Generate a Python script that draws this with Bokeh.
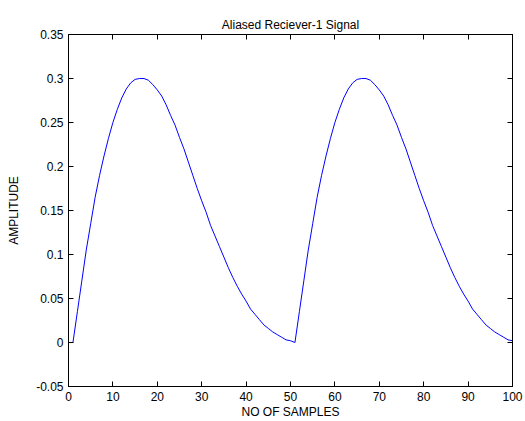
from bokeh.plotting import figure
from bokeh.models import Range1d, FixedTicker, LinearAxis
from bokeh.embed import file_html
from bokeh.resources import INLINE

samples = list(range(0, 101))
amplitude = [
    0.000, 0.000, 0.035, 0.070, 0.105, 0.135, 0.165, 0.190, 0.212, 0.232,
    0.250, 0.265, 0.278, 0.288, 0.295, 0.299, 0.300, 0.300, 0.298, 0.293,
    0.287, 0.280, 0.270, 0.258, 0.247, 0.233, 0.220, 0.205, 0.190, 0.175,
    0.161, 0.148, 0.133, 0.121, 0.109, 0.097, 0.085, 0.074, 0.064, 0.055,
    0.047, 0.038, 0.032, 0.026, 0.020, 0.016, 0.012, 0.009, 0.006, 0.003,
    0.002, 0.000, 0.035, 0.070, 0.105, 0.135, 0.165, 0.190, 0.212, 0.232,
    0.250, 0.265, 0.278, 0.288, 0.295, 0.299, 0.300, 0.300, 0.298, 0.293,
    0.287, 0.280, 0.270, 0.258, 0.247, 0.233, 0.220, 0.205, 0.190, 0.175,
    0.161, 0.148, 0.133, 0.121, 0.109, 0.097, 0.085, 0.074, 0.064, 0.055,
    0.047, 0.038, 0.032, 0.026, 0.020, 0.016, 0.012, 0.009, 0.006, 0.003,
    0.002,
]
x_ticks = [0, 10, 20, 30, 40, 50, 60, 70, 80, 90, 100]
y_ticks = [-0.05, 0, 0.05, 0.1, 0.15, 0.2, 0.25, 0.3, 0.35]
y_tick_labels = ["-0.05", "0", "0.05", "0.1", "0.15", "0.2", "0.25", "0.3", "0.35"]

FONT = "Liberation Sans"
FS = "12px"

p = figure(width=525, height=421, output_backend="svg", toolbar_location=None,
           x_range=Range1d(0, 100), y_range=Range1d(-0.05, 0.35),
           title="Aliased Reciever-1 Signal",
           min_border_left=68, min_border_right=13, min_border_top=34,
           min_border_bottom=34)

p.line(samples, amplitude, line_color="#0000ff", line_width=1)

p.title.align = "center"
p.title.text_font = FONT
p.title.text_font_size = FS
p.title.text_font_style = "normal"
p.title.text_color = "black"
p.title.standoff = 6

p.xgrid.visible = False
p.ygrid.visible = False
p.outline_line_color = "black"
p.outline_line_width = 1
p.background_fill_color = "white"
p.border_fill_color = "white"

ylabels = {v: s for v, s in zip(y_ticks, y_tick_labels)}

for ax in p.xaxis:
    ax.ticker = FixedTicker(ticks=x_ticks)
    ax.axis_label = "NO OF SAMPLES"
for ax in p.yaxis:
    ax.ticker = FixedTicker(ticks=y_ticks)
    ax.major_label_overrides = ylabels
    ax.axis_label = "AMPLITUDE"

top_ax = LinearAxis(ticker=FixedTicker(ticks=x_ticks))
right_ax = LinearAxis(ticker=FixedTicker(ticks=y_ticks))
p.add_layout(top_ax, "above")
p.add_layout(right_ax, "right")

for ax in p.xaxis + p.yaxis:
    ax.major_tick_in = 5
    ax.major_tick_out = 0
    ax.minor_tick_in = 0
    ax.minor_tick_out = 0
    ax.axis_line_color = "black"
    ax.axis_line_width = 1
    ax.major_tick_line_color = "black"
    ax.major_tick_line_width = 1
    ax.major_label_text_font = FONT
    ax.major_label_text_font_size = FS
    ax.major_label_text_color = "black"
    ax.axis_label_text_font = FONT
    ax.axis_label_text_font_size = FS
    ax.axis_label_text_font_style = "normal"
    ax.axis_label_text_color = "black"

for ax in p.below:
    ax.major_label_standoff = 5
    ax.axis_label_standoff = 1
for ax in p.left:
    ax.major_label_standoff = 5
    ax.axis_label_standoff = 12

for ax in (top_ax, right_ax):
    ax.major_label_text_font_size = "0px"
    ax.major_label_text_color = None
    ax.major_label_standoff = 0
    ax.axis_label = None

open("out.html", "w").write(file_html(p, INLINE))
